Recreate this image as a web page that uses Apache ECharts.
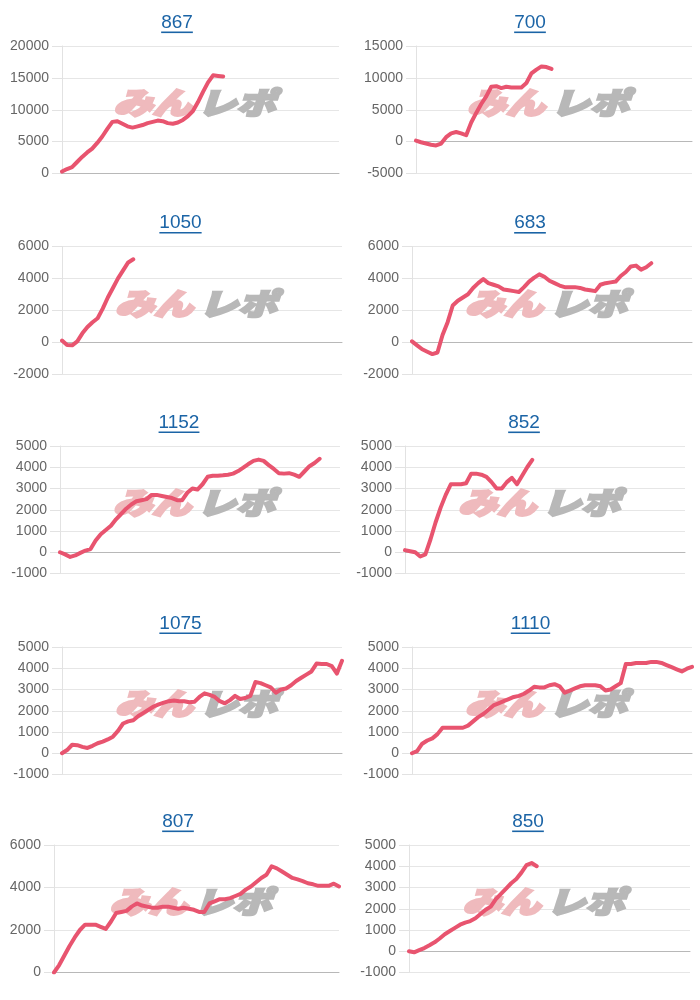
<!DOCTYPE html>
<html>
<head>
<meta charset="utf-8">
<script src="https://cdn.jsdelivr.net/npm/echarts@6/dist/echarts.min.js"></script>
<style>
html,body{margin:0;padding:0;background:#fff;}
#chart{width:700px;height:1000px;}
</style>
</head>
<body>
<div id="chart"></div>
<script>
// ---- data ----
const titles = ['867', '700', '1050', '683', '1152', '852', '1075', '1110', '807', '850'];
const slotCount = 56;
const slots = Array.from({length: slotCount}, (_, i) => String(i + 1));

const s867 = [300,700,1000,1800,2600,3300,3900,4800,5800,7000,8100,8200,7800,7400,7200,7400,7600,7900,8100,8300,8200,7900,7800,8000,8400,9000,9800,11200,12800,14300,15400,15300,15200];
const s700 = [150,-100,-300,-500,-600,-300,700,1300,1500,1300,1000,3000,4500,5900,7100,8600,8700,8400,8600,8500,8500,8500,9200,10700,11300,11800,11700,11400];
const s1050 = [100,-180,-200,50,550,950,1250,1500,2100,2800,3400,4000,4500,5000,5200];
const s683 = [50,-200,-450,-600,-750,-650,450,1250,2300,2600,2800,3000,3400,3700,3950,3700,3600,3500,3300,3250,3200,3150,3450,3800,4050,4250,4100,3850,3700,3550,3450,3450,3450,3400,3300,3250,3200,3600,3700,3750,3800,4150,4400,4750,4800,4550,4700,4950];
const s1152 = [0,-100,-220,-150,-30,80,150,550,850,1050,1250,1550,1800,2050,2250,2400,2450,2500,2700,2700,2650,2600,2550,2450,2450,2800,3000,2950,3200,3550,3600,3600,3620,3650,3700,3820,3980,4150,4300,4360,4300,4100,3920,3720,3700,3720,3650,3550,3800,4050,4200,4400];
const s852 = [100,50,0,-200,-100,600,1400,2100,2700,3200,3200,3200,3250,3700,3700,3650,3550,3300,3000,3000,3300,3500,3200,3600,4000,4350];
const s1075 = [0,150,400,380,300,250,350,470,550,650,780,1050,1400,1500,1550,1750,1900,2050,2200,2300,2380,2450,2480,2450,2450,2400,2420,2650,2820,2750,2650,2450,2350,2500,2700,2550,2600,2700,3350,3300,3200,3100,2850,3000,3050,3200,3400,3550,3700,3850,4220,4200,4200,4100,3750,4350];
const s1110 = [0,100,450,600,700,900,1200,1200,1200,1200,1200,1300,1500,1700,1850,2050,2250,2350,2450,2550,2650,2700,2800,2950,3130,3100,3100,3200,3250,3150,2850,2950,3050,3150,3200,3200,3200,3150,2950,3000,3150,3300,4200,4200,4250,4250,4250,4300,4300,4250,4150,4050,3950,3850,3980,4070];
const s807 = [0,350,800,1250,1650,2000,2250,2250,2250,2150,2050,2400,2800,2850,2900,3100,3250,3150,3100,3050,3050,3100,3100,3050,3000,3050,3000,2950,2850,2850,3250,3350,3450,3450,3500,3600,3700,3900,4050,4250,4450,4600,5000,4900,4750,4600,4450,4380,4300,4200,4150,4080,4080,4080,4180,4050];
const s850 = [0,-50,50,150,280,420,600,800,950,1100,1250,1350,1420,1550,1750,1950,2100,2450,2700,2950,3200,3400,3700,4050,4150,4000];

const seriesData = [s867, s700, s1050, s683, s1152, s852, s1075, s1110, s807, s850];
const yMin = [0, -5000, -2000, -2000, -1000, -1000, -1000, -1000, 0, -1000];
const yMax = [20000, 15000, 6000, 6000, 5000, 5000, 5000, 5000, 6000, 5000];
const yStep = [5000, 5000, 2000, 2000, 1000, 1000, 1000, 1000, 2000, 1000];

// ---- layout (positions only) ----
const plots = [
  [62, 339, 46], [416, 692, 46],
  [62, 342, 246.5], [412, 692, 246.5],
  [60, 340, 446], [405, 685, 446],
  [62, 342, 647], [412, 692, 647],
  [54, 339, 845], [409, 690, 845]
];
const plotH = 127.5;
const titleX = [177, 530, 180.5, 530, 179, 524, 180.5, 530.5, 178, 528];

const FONT = '"Liberation Sans", Arial, sans-serif';
const LINE = '#e8546f';
const TITLE_C = '#1b64a6';
const WM_PINK = '#efbabd';
const WM_GRAY = '#b8b8b8';

const mctx = document.createElement('canvas').getContext('2d');
mctx.font = '19px ' + FONT;

const grid = [], xAxis = [], yAxis = [], series = [], graphic = [];
plots.forEach((p, i) => {
  const [x1, x2, top] = p;
  grid.push({left: x1, top: top, width: x2 - x1, height: plotH, outerBoundsMode: 'none', containLabel: false});
  xAxis.push({
    type: 'category', gridIndex: i, data: slots, boundaryGap: false,
    axisLine: {show: true, onZero: true, lineStyle: {color: '#b8b8b8', width: 1}},
    axisTick: {show: false}, axisLabel: {show: false}, splitLine: {show: false}
  });
  yAxis.push({
    type: 'value', gridIndex: i, min: yMin[i], max: yMax[i], interval: yStep[i],
    axisLine: {show: true, lineStyle: {color: '#e2e2e2'}},
    axisTick: {show: true, length: 10, lineStyle: {color: '#e2e2e2'}},
    axisLabel: {color: '#666', fontSize: 14, fontFamily: FONT, margin: 13, formatter: v => String(v)},
    splitLine: {show: true, lineStyle: {color: '#e6e6e6', width: 1}}
  });
  series.push({
    type: 'line', xAxisIndex: i, yAxisIndex: i, data: seriesData[i],
    showSymbol: false, symbol: 'none', smooth: false, z: 5,
    lineStyle: {color: LINE, width: 4, join: 'round', cap: 'round'}
  });
  // title + underline
  const ty = top - 23.5;
  const w = mctx.measureText(titles[i]).width;
  graphic.push({
    type: 'text', x: titleX[i], y: ty, z: 10,
    style: {text: titles[i], font: '19px ' + FONT, fill: TITLE_C, textAlign: 'center', textVerticalAlign: 'middle'}
  });
  graphic.push({
    type: 'rect', shape: {x: titleX[i] - w / 2, y: ty + 9, width: w, height: 1.6}, z: 10,
    style: {fill: TITLE_C}
  });
  // watermark
  const cx = (x1 + x2) / 2 - 6, cy = top + 57;
  graphic.push({
    type: 'text', x: cx - 3, y: cy, scaleX: 1.3, z: 1,
    style: {text: 'みん', font: 'italic 900 30px "Noto Sans CJK JP"', fill: WM_PINK, stroke: WM_PINK, lineWidth: 2.5, textAlign: 'right', textVerticalAlign: 'middle'}
  });
  graphic.push({
    type: 'text', x: cx + 3, y: cy, scaleX: 1.3, z: 1,
    style: {text: 'レポ', font: 'italic 900 30px "Noto Sans CJK JP"', fill: WM_GRAY, stroke: WM_GRAY, lineWidth: 2.5, textAlign: 'left', textVerticalAlign: 'middle'}
  });
});

const chart = echarts.init(document.getElementById('chart'), null, {renderer: 'canvas'});
chart.setOption({
  animation: false,
  backgroundColor: '#fff',
  grid, xAxis, yAxis, series,
  graphic: {elements: graphic}
});
</script>
</body>
</html>
